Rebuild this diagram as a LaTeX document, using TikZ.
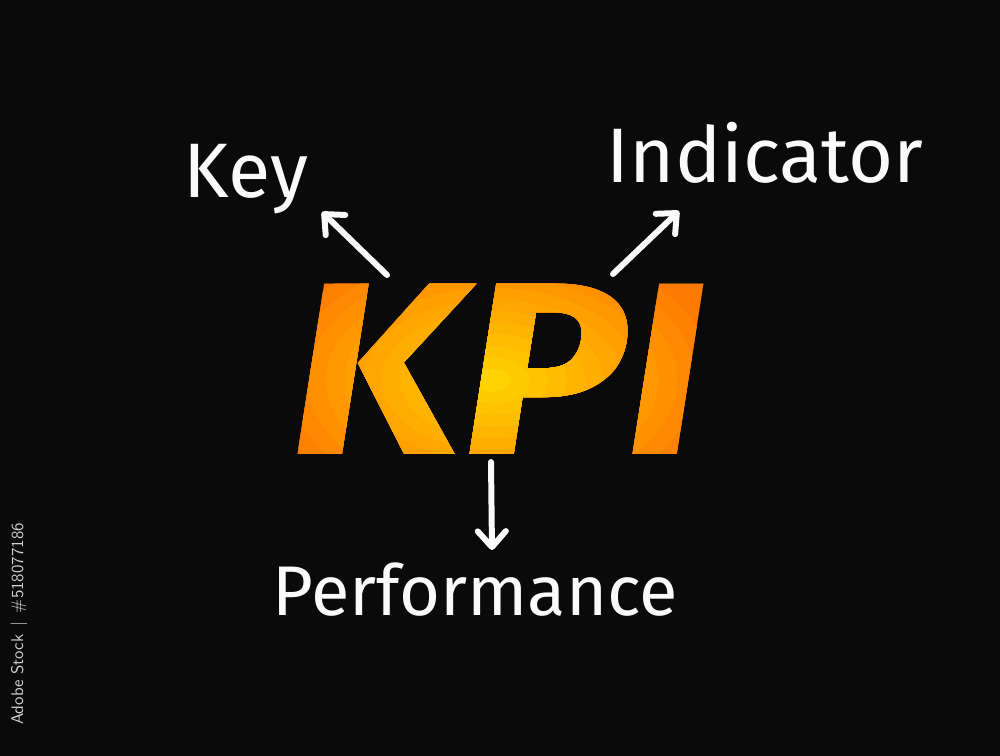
\documentclass[tikz,border=0pt]{standalone}
\usepackage{fontspec}
\usepackage{tikz}
\usetikzlibrary{arrows.meta,positioning}
\setmainfont{Fira Sans}
\newfontfamily\handfont{Fira Sans}
\definecolor{BoardBlack}{HTML}{0A0A0A}
\definecolor{ChalkWhite}{HTML}{FAFAFA}
\definecolor{CreditGrey}{HTML}{D2D2D2}
\definecolor{KpiYellow}{HTML}{FFD200}
\definecolor{KpiOrange}{HTML}{FF7A00}
\tikzset{
  WD/.style={text=ChalkWhite,inner sep=0pt,anchor=base,
             font=\handfont\fontsize{44}{44}\selectfont},
  KP/.style={inner sep=0pt,anchor=base,xscale=1.12,
             font=\handfont\bfseries\itshape\fontsize{140}{140}\selectfont},
  arr/.style={draw=ChalkWhite,line width=3.4pt,line cap=round,
              -{Straight Barb[length=9pt,width=16pt,line width=3.4pt,round]}},
  CR/.style={text=CreditGrey,rotate=90,inner sep=0pt,
             font=\sffamily\fontsize{9.6}{9.6}\selectfont}
}
\begin{document}
\begin{tikzpicture}[x=0.02cm,y=-0.02cm]
  \fill[BoardBlack] (0,0) rectangle (1000,756);

  % acronym, orange at the rim and yellow in the middle
  \node[KP,text=KpiOrange] (kpi) at (498,455) {KPI};
  \foreach \k in {1,...,12}{
    \pgfmathsetmacro{\mix}{100*\k/12}
    \begin{scope}
      \clip (492,380) ellipse ({240*(1-\k/13)} and {150*(1-\k/13)});
      \node[KP,text=KpiYellow!\mix!KpiOrange] at (498,455) {KPI};
    \end{scope}
  }

  % words round the acronym
  \node[WD] (key) at (246,198) {Key};
  \node[WD] (ind) at (765,183) {Indicator};
  \node[WD,font=\handfont\fontsize{40}{40}\selectfont] (perf) at (475,615) {Performance};

  % arrow ends
  \coordinate (keyTail) at (387,275);
  \coordinate (keyTip)  at (322,212);
  \coordinate (indTail) at (613,274);
  \coordinate (indTip)  at (679,211);
  \coordinate (perfTail) at (491,462);
  \coordinate (perfTip)  at (492,550);

  \draw[arr] (keyTail) -- (keyTip);
  \draw[arr] (indTail) -- (indTip);
  \draw[arr] (perfTail) -- (perfTip);

  \node[CR] (credit) at (19,624) {Adobe Stock \,|\, \#518077186};
\end{tikzpicture}
\end{document}
